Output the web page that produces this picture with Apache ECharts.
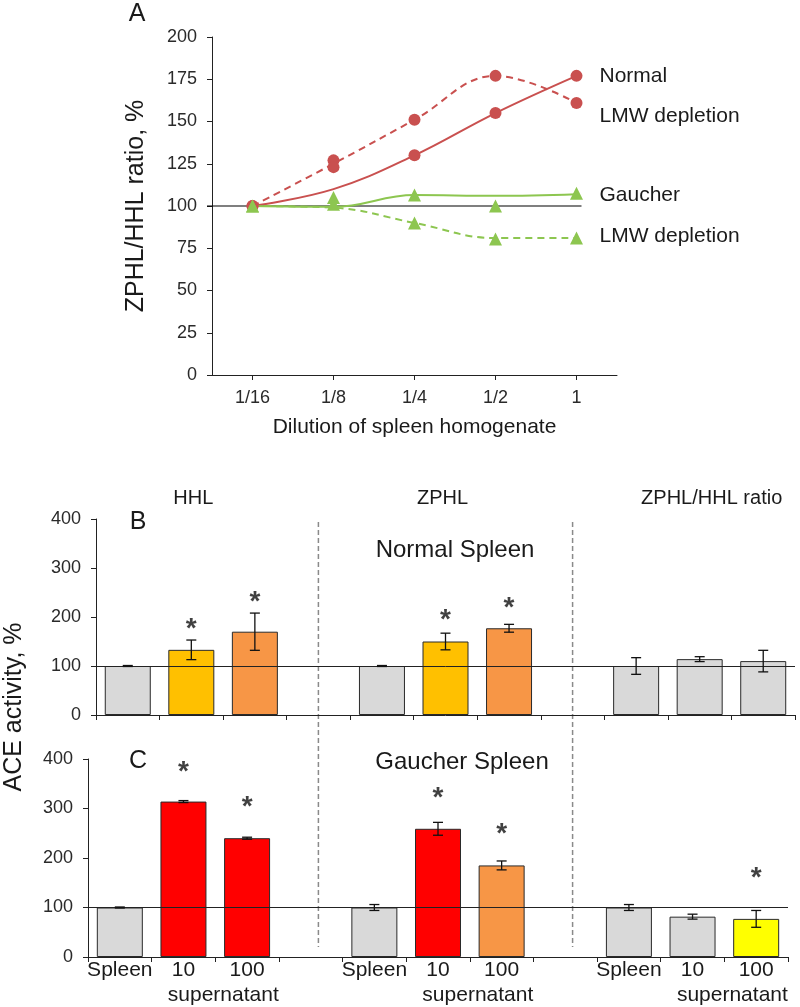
<!DOCTYPE html>
<html><head><meta charset="utf-8">
<script src="https://cdn.jsdelivr.net/npm/echarts@6/dist/echarts.min.js"></script>
<style>html,body{margin:0;padding:0;background:#fff}#c{width:800px;height:1007px}</style>
</head><body><div id="c"></div>
<script>
// ---------- Panel A data ----------
const dilutions = ['1/16', '1/8', '1/4', '1/2', '1'];
const normalPts = [100, 127, 130, 155, 177];
const normalFit = [100, 110, 130, 155, 177];
const normalLmwPts = [100, 123, 151, 177, 161];
const normalLmwFit = [100, 125, 151, 177, 161];
const gaucherPts = [100, 105, 106.5, 100, 107.5];
const gaucherFit = [100, 99.5, 106.5, 106, 107];
const gaucherLmwPts = [100, 101, 90, 80.5, 81];
const gaucherLmwFit = [100, 99, 90, 81, 81];
const seriesLabels = ['Normal', 'LMW depletion', 'Gaucher', 'LMW depletion'];
const seriesLabelLevels = [177, 153, 106.5, 82];

// ---------- Panels B / C data ----------
const barCats = ['Spleen', '10', '100', '', 'Spleen', '10', '100', '', 'Spleen', '10', '100'];
const groupHeaders = ['HHL', 'ZPHL', 'ZPHL/HHL ratio'];
const barsB = [100, 133, 170, null, 100, 150, 177, null, 100, 114, 110];
const errB  = [1, 20, 38, null, 1, 17, 8, null, 17, 5, 22];
const starsB = [null, 190, 245, null, null, 208, 233, null, null, null, null];
const barsC = [100, 314, 240, null, 100, 259, 185, null, 100, 81.5, 77];
const errC  = [1, 2, 2, null, 6, 13, 9, null, 6, 5, 17];
const starsC = [null, 388, 317, null, null, 334, 263, null, null, null, 174];

const GREY = '#d9d9d9', YEL = '#ffc000', ORG = '#f79646', RED = '#ff0000', LYEL = '#ffff00';
const colorsB = [GREY, YEL, ORG, null, GREY, YEL, ORG, null, GREY, GREY, GREY];
const colorsC = [GREY, RED, RED, null, GREY, RED, ORG, null, GREY, GREY, LYEL];

const FONT = "'Liberation Sans', Arial, Helvetica, sans-serif";
const TXT = '#1a1a1a';
const LRED = '#c9504f', LGRN = '#8dc650';

const chart = echarts.init(document.getElementById('c'), null, {renderer: 'canvas'});

function errRender(params, api) {
  const x = api.value(0), lo = api.value(1), hi = api.value(2);
  const p1 = api.coord([x, lo]), p2 = api.coord([x, hi]);
  const w = 5;
  const st = {stroke: '#111', lineWidth: 1.3};
  return {type: 'group', children: [
    {type: 'line', shape: {x1: p1[0], y1: p1[1], x2: p2[0], y2: p2[1]}, style: st},
    {type: 'line', shape: {x1: p1[0] - w, y1: p1[1], x2: p1[0] + w, y2: p1[1]}, style: st},
    {type: 'line', shape: {x1: p2[0] - w, y1: p2[1], x2: p2[0] + w, y2: p2[1]}, style: st}
  ]};
}
const errData = (bars, err) => bars.map((v, i) => v == null ? null : [i, v - err[i], v + err[i]]).filter(Boolean);
const barData = (bars, cols) => bars.map((v, i) => v == null ? '-' : {value: v, itemStyle: {color: cols[i]}});
const starData = (s) => s.map((v, i) => v == null ? null : [i, v]).filter(Boolean);

const axisLineStyle = {lineStyle: {color: '#222', width: 1}};
const tickStyle = {show: true, length: 5, lineStyle: {color: '#222'}};

function barYAxis(gi) {
  return {
    type: 'value', gridIndex: gi, min: 0, max: 400, interval: 100,
    axisLine: {show: true, ...axisLineStyle}, axisTick: tickStyle, splitLine: {show: false},
    axisLabel: {fontSize: 18, color: '#2a2a2a', fontFamily: FONT, margin: 15}
  };
}
function barSeries(gi, bars, cols, err, stars) {
  return [
    {
      type: 'bar', xAxisIndex: gi, yAxisIndex: gi, barWidth: 46, data: barData(bars, cols),
      itemStyle: {borderColor: '#2a2a2a', borderWidth: 1}, silent: true,
      markLine: {silent: true, symbol: 'none', label: {show: false},
        lineStyle: {color: '#222', width: 1, type: 'solid'}, data: [{yAxis: 100}]}
    },
    {type: 'custom', xAxisIndex: gi, yAxisIndex: gi, renderItem: errRender, data: errData(bars, err),
     encode: {x: 0, y: [1, 2]}, z: 5, silent: true},
    {type: 'scatter', xAxisIndex: gi, yAxisIndex: gi, data: starData(stars), symbolSize: 1,
     itemStyle: {color: 'rgba(0,0,0,0)'}, silent: true, z: 6,
     label: {show: true, formatter: '*', position: 'inside', fontSize: 28, fontWeight: 'bold', color: '#111',
       fontFamily: FONT, offset: [0, 7]}}
  ];
}

const option = {
  animation: false,
  backgroundColor: '#fff',
  grid: [
    {left: 212, right: 183, top: 37, height: 338},
    {left: 96, right: 5, top: 519, height: 196},
    {left: 88, right: 12, top: 759, height: 198}
  ],
  xAxis: [
    {type: 'category', gridIndex: 0, data: dilutions, boundaryGap: true,
     axisLine: axisLineStyle, axisTick: {...tickStyle, alignWithLabel: true},
     axisLabel: {fontSize: 18, color: '#2a2a2a', fontFamily: FONT, margin: 14},
     name: 'Dilution of spleen homogenate', nameLocation: 'middle', nameGap: 42,
     nameTextStyle: {fontSize: 21, color: TXT, fontFamily: FONT}},
    {type: 'category', gridIndex: 1, data: barCats, boundaryGap: true,
     axisLine: axisLineStyle, axisTick: tickStyle, axisLabel: {show: false}},
    {type: 'category', gridIndex: 2, data: barCats, boundaryGap: true,
     axisLine: axisLineStyle, axisTick: tickStyle,
     axisLabel: {show: true, interval: 0, fontSize: 21, color: TXT, fontFamily: FONT, margin: 3}}
  ],
  yAxis: [
    {type: 'value', gridIndex: 0, min: 0, max: 200, interval: 25,
     axisLine: {show: true, ...axisLineStyle}, axisTick: tickStyle, splitLine: {show: false},
     axisLabel: {fontSize: 18, color: '#2a2a2a', fontFamily: FONT, margin: 15},
     name: 'ZPHL/HHL ratio, %', nameLocation: 'middle', nameGap: 63, nameRotate: 90,
     nameTextStyle: {fontSize: 25, color: TXT, fontFamily: FONT}},
    barYAxis(1), barYAxis(2)
  ],
  series: [
    {type: 'line', xAxisIndex: 0, yAxisIndex: 0, data: normalFit, smooth: 0.4, showSymbol: false,
     lineStyle: {color: LRED, width: 2}, silent: true},
    {type: 'line', xAxisIndex: 0, yAxisIndex: 0, data: normalLmwFit, smooth: 0.4, showSymbol: false,
     lineStyle: {color: LRED, width: 2, type: [7, 5]}, silent: true},
    {type: 'line', xAxisIndex: 0, yAxisIndex: 0, data: gaucherFit, smooth: 0.4, showSymbol: false,
     lineStyle: {color: LGRN, width: 2}, silent: true},
    {type: 'line', xAxisIndex: 0, yAxisIndex: 0, data: gaucherLmwFit, smooth: 0.4, showSymbol: false,
     lineStyle: {color: LGRN, width: 2, type: [7, 5]}, silent: true},
    {type: 'scatter', xAxisIndex: 0, yAxisIndex: 0, data: normalPts, symbol: 'circle', symbolSize: 12,
     itemStyle: {color: LRED, opacity: 1}, silent: true, z: 4},
    {type: 'scatter', xAxisIndex: 0, yAxisIndex: 0, data: normalLmwPts, symbol: 'circle', symbolSize: 12,
     itemStyle: {color: LRED, opacity: 1}, silent: true, z: 4},
    {type: 'scatter', xAxisIndex: 0, yAxisIndex: 0, data: gaucherPts, symbol: 'triangle', symbolSize: 13,
     itemStyle: {color: LGRN, opacity: 1}, silent: true, z: 4},
    {type: 'scatter', xAxisIndex: 0, yAxisIndex: 0, data: gaucherLmwPts, symbol: 'triangle', symbolSize: 13,
     itemStyle: {color: LGRN, opacity: 1}, silent: true, z: 4},
    ...barSeries(1, barsB, colorsB, errB, starsB),
    ...barSeries(2, barsC, colorsC, errC, starsC)
  ]
};
chart.setOption(option);

// ---------- annotations positioned through the axes ----------
const px = (g, x, y) => chart.convertToPixel({xAxisIndex: g, yAxisIndex: g}, [x, y]);
const txt = (t, x, y, size, extra) => Object.assign({type: 'text', x: x, y: y, silent: true,
  style: {text: t, fontSize: size, fontFamily: FONT, fill: TXT, align: 'center', verticalAlign: 'middle'}}, extra || {});

const g = [];
// reference line at 100 in panel A
const a0 = px(0, 0, 100), a1 = px(0, 1, 100), a4 = px(0, 4, 100);
const half = (a1[0] - a0[0]) / 2;
g.push({type: 'line', silent: true, z: 1, shape: {x1: a0[0] - half - 5, y1: a0[1], x2: a4[0] + 5, y2: a0[1]},
  style: {stroke: '#000', lineWidth: 1.2}});
// series names in panel A
seriesLabels.forEach((t, i) => {
  const p = px(0, 4, seriesLabelLevels[i]);
  g.push({type: 'text', x: p[0] + 23, y: p[1], silent: true,
    style: {text: t, fontSize: 21, fontFamily: FONT, fill: TXT, align: 'left', verticalAlign: 'middle'}});
});
// dashed separators across B and C
[3, 7].forEach(ci => {
  const top = px(1, ci, 400), bot = px(2, ci, 0);
  g.push({type: 'line', silent: true, shape: {x1: top[0], y1: top[1] + 3, x2: top[0], y2: bot[1] - 10},
    style: {stroke: '#8a8a8a', lineWidth: 1.5, lineDash: [5, 3]}});
});
// "supernatant" under 10 and 100 in panel C
[1, 5, 9].forEach(ci => {
  const p1 = px(2, ci, 0), p2 = px(2, ci + 1, 0);
  g.push(txt('supernatant', (p1[0] + p2[0]) / 2 + 8, p1[1] + 38, 21));
});
// panel letters, headers and titles
g.push(txt('A', 137, 14, 25));
g.push(txt('B', 138, 522, 25));
g.push(txt('C', 138, 761, 25));
const hdrX = [px(1, 1, 0)[0] + 2, px(1, 5, 0)[0] - 3, px(1, 9, 0)[0] + 12];
groupHeaders.forEach((t, i) => g.push(txt(t, hdrX[i], 498, 20)));
g.push(txt('Normal Spleen', 455, 550, 24));
g.push(txt('Gaucher Spleen', 462, 762, 24));
g.push(txt('ACE activity, %', 14, 707, 25, {rotation: Math.PI / 2}));

chart.setOption({graphic: g});
</script>
</body></html>
